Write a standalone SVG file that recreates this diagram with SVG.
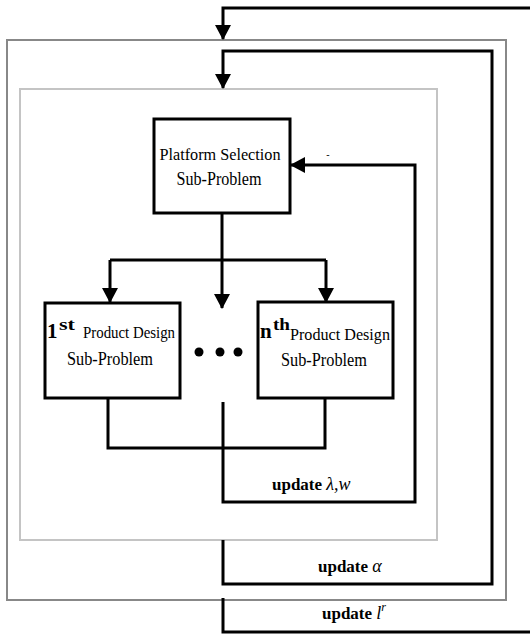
<svg xmlns="http://www.w3.org/2000/svg" width="530" height="635" viewBox="0 0 530 635">
<style>
.box{fill:#fff;stroke:#000;stroke-width:3}
.c{fill:none;stroke:#000;stroke-width:3}
.t{font-family:"Liberation Serif","Times New Roman",serif;fill:#000}
.b{font-weight:bold}
.i{font-style:italic;font-weight:normal}
</style>
<defs>
<marker id="ah" markerUnits="userSpaceOnUse" viewBox="0 0 15 16" markerWidth="15" markerHeight="16" refX="14" refY="8" orient="auto">
<path d="M0,0 L15,8 L0,16 z" fill="#000"/>
</marker>
</defs>
<rect width="530" height="635" fill="#fff"/>
<g id="outer-frame"><rect x="7" y="40" width="499" height="560" fill="none" stroke="#888" stroke-width="2"/></g>
<g id="inner-frame"><rect x="20" y="89" width="417" height="451" fill="none" stroke="#c4c4c4" stroke-width="2"/></g>
<g id="connectors">
<path class="c" d="M530,8 H223 V39" marker-end="url(#ah)"/>
<path class="c" d="M223,540 V584 H492 V51 H223 V88" marker-end="url(#ah)"/>
<path class="c" d="M223,598 V632 H530"/>
<path class="c" d="M223,402 V502 H415 V165 H291" marker-end="url(#ah)"/>
<path class="c" d="M222,213 V260"/>
<path class="c" d="M110,260 H326"/>
<path class="c" d="M110,260 V302" marker-end="url(#ah)"/>
<path class="c" d="M326,260 V302" marker-end="url(#ah)"/>
<path class="c" d="M222,260 V308" marker-end="url(#ah)"/>
<path class="c" d="M108,398 V448 H325 V398"/>
</g>
<g id="platform">
<rect class="box" x="154" y="119" width="136" height="94"/>
<text class="t" x="220" y="160" font-size="17" text-anchor="middle" textLength="121" lengthAdjust="spacingAndGlyphs">Platform Selection</text>
<text class="t" x="219" y="185" font-size="18" text-anchor="middle" textLength="85" lengthAdjust="spacingAndGlyphs">Sub-Problem</text>
</g>
<g id="product1">
<rect class="box" x="45" y="303" width="135" height="95"/>
<text class="t b" x="47" y="338" font-size="21">1</text>
<text class="t b" x="59" y="330" font-size="17" textLength="16" lengthAdjust="spacingAndGlyphs">st</text>
<text class="t" x="83" y="338" font-size="17" textLength="92" lengthAdjust="spacingAndGlyphs">Product Design</text>
<text class="t" x="110" y="365" font-size="18" text-anchor="middle" textLength="86" lengthAdjust="spacingAndGlyphs">Sub-Problem</text>
</g>
<g id="dots">
<circle cx="199" cy="352" r="4.5"/>
<circle cx="220" cy="352" r="4.5"/>
<circle cx="238" cy="352" r="4.5"/>
</g>
<g id="productn">
<rect class="box" x="258" y="302" width="135" height="96"/>
<text class="t b" x="260" y="338" font-size="21">n</text>
<text class="t b" x="273" y="330" font-size="17" textLength="17" lengthAdjust="spacingAndGlyphs">th</text>
<text class="t" x="290" y="340" font-size="17" textLength="100" lengthAdjust="spacingAndGlyphs">Product Design</text>
<text class="t" x="324" y="366" font-size="18" text-anchor="middle" textLength="86" lengthAdjust="spacingAndGlyphs">Sub-Problem</text>
</g>
<g id="labels">
<text class="t" x="328" y="158" font-size="10" text-anchor="middle">-</text>
<text class="t b" x="272" y="490" font-size="17">update <tspan class="i" font-size="18">λ,w</tspan></text>
<text class="t b" x="318" y="572" font-size="17">update <tspan class="i" font-size="18">α</tspan></text>
<text class="t b" x="322" y="619" font-size="17">update <tspan class="i" font-size="18">l</tspan><tspan class="i" font-size="12" dy="-8">r</tspan></text>
</g>
</svg>
